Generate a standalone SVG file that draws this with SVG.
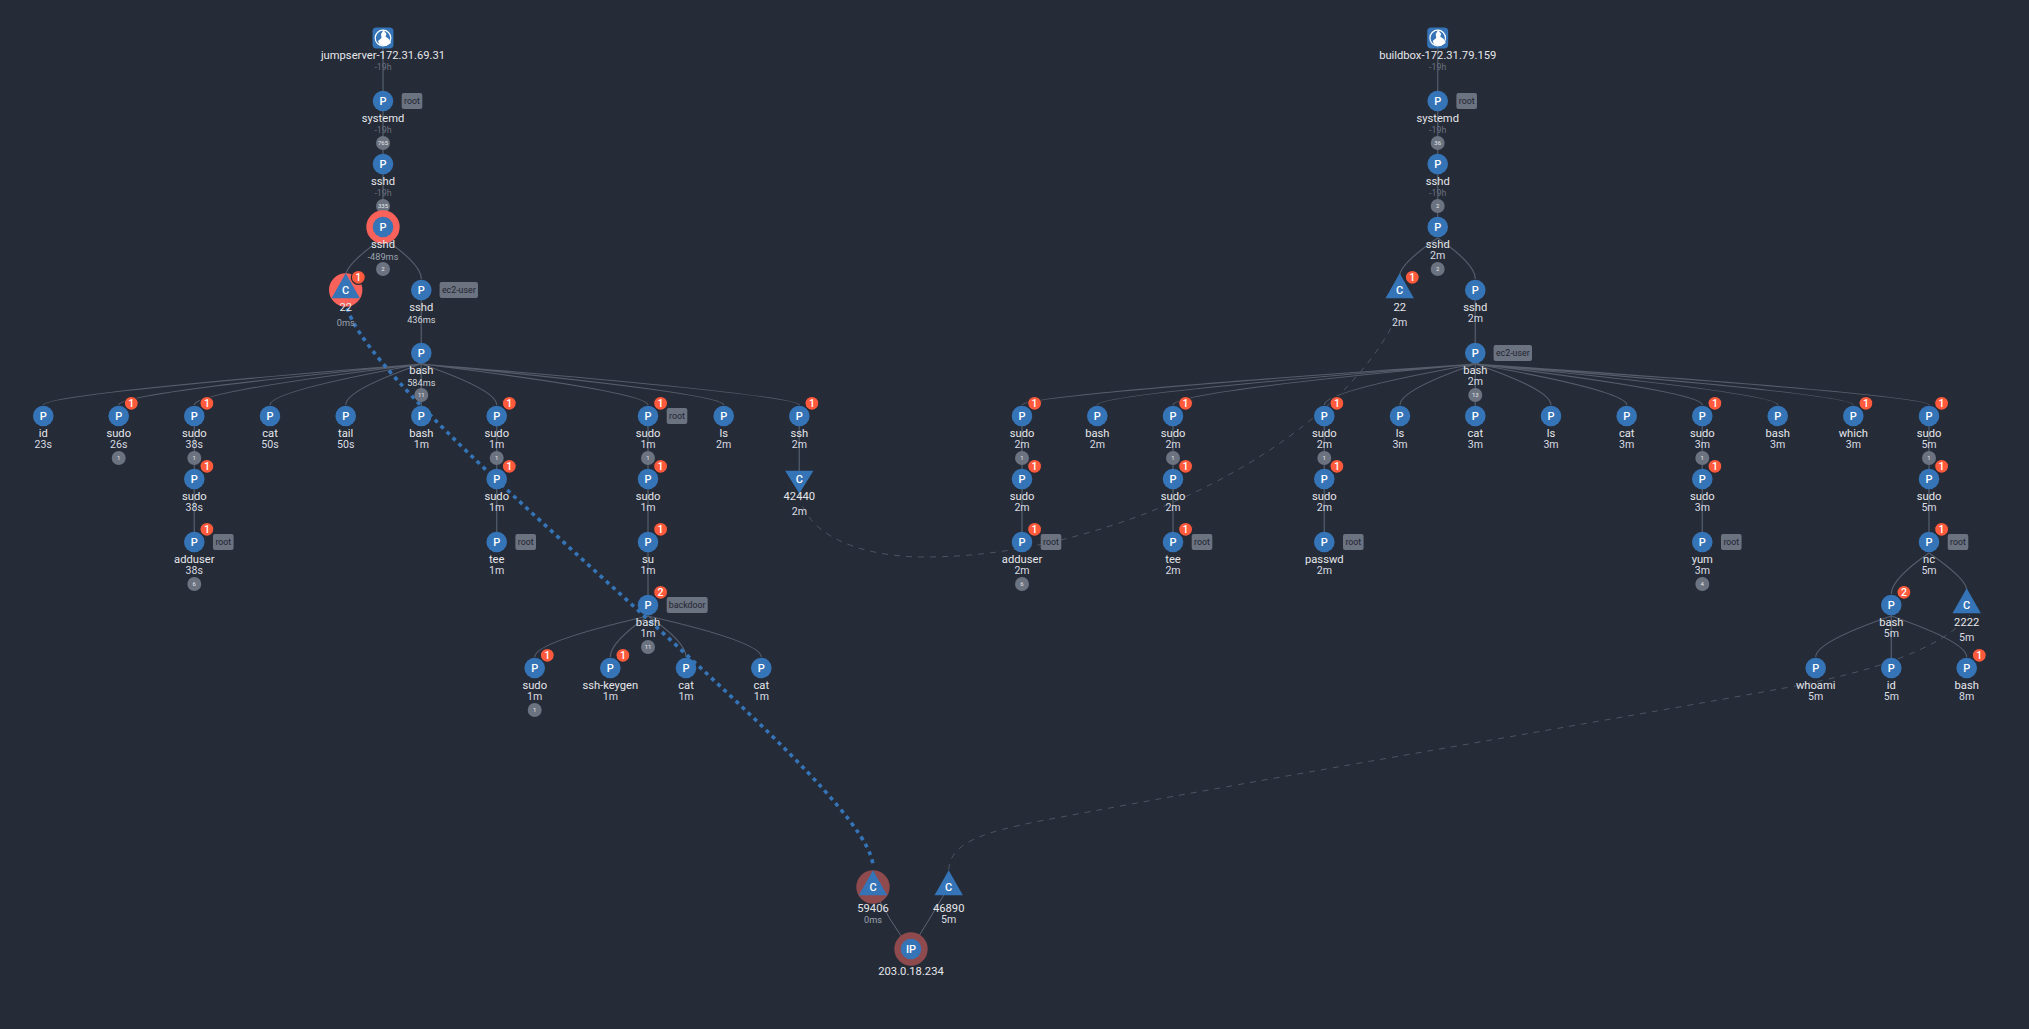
<svg xmlns="http://www.w3.org/2000/svg" width="2029" height="1029" viewBox="0 0 2029 1029">
<style>
text{font-family:Roboto,"Liberation Sans",sans-serif;text-anchor:middle}
.n{font-size:11.2px;fill:#e5e7eb}
.t{font-size:10.6px;fill:#d9dce2}
.m{font-size:9.2px;fill:#d1d5db}
.g{font-size:9.2px;fill:#9ca3af}
.h{font-size:8.8px;fill:#6b7280}
.l{font-size:11px;font-weight:500;fill:#fff}
.b{fill:#3574b7}
.bd{fill:#ff5a3c;stroke:#252b37;stroke-width:1.2}
.bt{font-size:10.5px;font-weight:500;fill:#fff}
.c{fill:#6b7280}
.ct{font-size:6px;fill:#e5e7eb}
.tg{fill:#6b7280}
.tt{font-size:8.8px;fill:#1f2430}
.hr{fill:#f8625a}
.hd{fill:#8f4a4e}
#edges path{fill:none;stroke:#565d6b;stroke-width:1.2}
#edges .v{stroke:#4b5563;stroke-width:1.5}
#edges .ip{stroke:#5f6673;stroke-width:1}
#edges .dash{stroke:#4b5563;stroke-width:1;stroke-dasharray:6 6}
#edges .dot{stroke:#3574b7;stroke-width:3.6;stroke-dasharray:4 4.4}
</style>
<defs>
<path id="up" d="M0-16.7L14.2 8.3H-14.2Z" class="b"/>
<path id="dn" d="M-14.2-8.3H14.2L0 14.4Z" class="b"/>
<g id="host"><rect x="-10.5" y="-10.5" width="21" height="21" rx="4" class="b"/><circle r="7.8" fill="none" stroke="#fff" stroke-width="1.2"/><path d="M0.5-8L3.5-4 2.5-1.5 6 1 8 5 3.5 7.8-3.5 6.5-5 3-1.5 0-2-4Z" fill="#fff"/></g>
</defs>
<rect width="2029" height="1029" fill="#252b37"/>
<g id="edges">
<path class="v" d="M383 38V227M421.3 290V353M421.3 353V416M194.3 416V542M496.7 416V542M648 416V605M799.3 416V479M1437.7 38V227M1475.3 290V353M1475.3 353V416M1022 416V542M1173 416V542M1324.3 416V542M1702.3 416V542M1929 416V542M1891.3 605V668"/>
<path d="M383 238Q345.7 264 345.7 276M383 238Q421.3 264 421.3 279"/>
<path d="M421.3 364Q43.3 394 43.3 405M421.3 364Q118.7 393 118.7 405M421.3 364Q194.3 392 194.3 405M421.3 364Q270 391 270 405M421.3 364Q345.7 390 345.7 405M421.3 364Q496.7 390 496.7 405M421.3 364Q648 392 648 405M421.3 364Q723.7 393 723.7 405M421.3 364Q799.3 395 799.3 405"/>
<path d="M648 616Q534.7 642 534.7 657M648 616Q610.3 642 610.3 657M648 616Q686 642 686 657M648 616Q761.3 642 761.3 657"/>
<path d="M1437.7 238Q1399.7 264 1399.7 276M1437.7 238Q1475.3 264 1475.3 279"/>
<path d="M1475.3 364Q1022 395 1022 405M1475.3 364Q1097.3 394 1097.3 405M1475.3 364Q1173 392 1173 405M1475.3 364Q1324.3 391 1324.3 405M1475.3 364Q1400 390 1400 405M1475.3 364Q1551 390 1551 405M1475.3 364Q1626.7 391 1626.7 405M1475.3 364Q1702.3 392 1702.3 405M1475.3 364Q1777.7 393 1777.7 405M1475.3 364Q1853.3 394 1853.3 405M1475.3 364Q1929 395 1929 405"/>
<path d="M1929 553Q1891.3 579 1891.3 594M1929 553Q1966.7 579 1966.7 590"/>
<path d="M1891.3 616Q1815.7 642 1815.7 657M1891.3 616Q1966.7 642 1966.7 657"/>
<path class="ip" d="M873 887Q888 920 911 949M948.7 887Q930 918 911 949"/>
<path class="dash" d="M799.3 495C806 535 860 557 925 557C1120 557 1345 440 1399.7 310"/>
<path class="dash" d="M948.7 870C950 842 985 832 1040 821C1300 772 1600 722 1790 687C1870 672 1940 650 1970 615"/>
<path class="dot" d="M345.7 300C350 390 870 780 873 866"/>
</g>
<g id="host1"><use href="#host" x="383" y="38"/><text class="n" x="383" y="59">jumpserver-172.31.69.31</text><text class="h" x="383" y="70">-19h</text></g>
<g id="l1" transform="translate(383,101)"><circle r="10.3" class="b"/><text class="l" y="4">P</text><text class="n" y="21">systemd</text><text class="h" y="32">-19h</text><circle cy="42" r="7" class="c"/><text class="ct" y="44">765</text><rect x="18.7" y="-8" width="20.6" height="16" rx="2" class="tg"/><text class="tt" x="29" y="3.2">root</text></g>
<g id="l2" transform="translate(383,164)"><circle r="10.3" class="b"/><text class="l" y="4">P</text><text class="n" y="21">sshd</text><text class="h" y="32">-19h</text><circle cy="42" r="7" class="c"/><text class="ct" y="44">335</text></g>
<g id="l3" transform="translate(383,227)"><circle r="16.7" class="hr"/><circle r="10.3" class="b"/><text class="l" y="4">P</text><text class="n" y="21">sshd</text><text class="g" y="32.5">-489ms</text><circle cy="42" r="7" class="c"/><text class="ct" y="44">2</text></g>
<g id="l4" transform="translate(345.7,290)"><circle r="16.7" class="hr"/><use href="#up"/><text class="l" y="4">C</text><text class="n" y="21">22</text><text class="g" y="36">0ms</text><circle cx="12.6" cy="-12.7" r="7" class="bd"/><text class="bt" x="12.6" y="-9">1</text></g>
<g id="l5" transform="translate(421.3,290)"><circle r="10.3" class="b"/><text class="l" y="4">P</text><text class="n" y="21">sshd</text><text class="m" y="32.5">436ms</text><rect x="18.3" y="-8" width="38.4" height="16" rx="2" class="tg"/><text class="tt" x="37.5" y="3.2">ec2-user</text></g>
<g id="l6" transform="translate(421.3,353)"><circle r="10.3" class="b"/><text class="l" y="4">P</text><text class="n" y="21">bash</text><text class="m" y="32.5">584ms</text><circle cy="42" r="7" class="c"/><text class="ct" y="44">11</text></g>
<g id="l7" transform="translate(43.3,416)"><circle r="10.3" class="b"/><text class="l" y="4">P</text><text class="n" y="21">id</text><text class="t" y="32.2">23s</text></g>
<g id="l8" transform="translate(118.7,416)"><circle r="10.3" class="b"/><text class="l" y="4">P</text><text class="n" y="21">sudo</text><text class="t" y="32.2">26s</text><circle cy="42" r="7" class="c"/><text class="ct" y="44">1</text><circle cx="12.6" cy="-12.7" r="7" class="bd"/><text class="bt" x="12.6" y="-9">1</text></g>
<g id="l9" transform="translate(194.3,416)"><circle r="10.3" class="b"/><text class="l" y="4">P</text><text class="n" y="21">sudo</text><text class="t" y="32.2">38s</text><circle cy="42" r="7" class="c"/><text class="ct" y="44">1</text><circle cx="12.6" cy="-12.7" r="7" class="bd"/><text class="bt" x="12.6" y="-9">1</text></g>
<g id="l10" transform="translate(270,416)"><circle r="10.3" class="b"/><text class="l" y="4">P</text><text class="n" y="21">cat</text><text class="t" y="32.2">50s</text></g>
<g id="l11" transform="translate(345.7,416)"><circle r="10.3" class="b"/><text class="l" y="4">P</text><text class="n" y="21">tail</text><text class="t" y="32.2">50s</text></g>
<g id="l12" transform="translate(421.3,416)"><circle r="10.3" class="b"/><text class="l" y="4">P</text><text class="n" y="21">bash</text><text class="t" y="32.2">1m</text></g>
<g id="l13" transform="translate(496.7,416)"><circle r="10.3" class="b"/><text class="l" y="4">P</text><text class="n" y="21">sudo</text><text class="t" y="32.2">1m</text><circle cy="42" r="7" class="c"/><text class="ct" y="44">1</text><circle cx="12.6" cy="-12.7" r="7" class="bd"/><text class="bt" x="12.6" y="-9">1</text></g>
<g id="l14" transform="translate(648,416)"><circle r="10.3" class="b"/><text class="l" y="4">P</text><text class="n" y="21">sudo</text><text class="t" y="32.2">1m</text><circle cy="42" r="7" class="c"/><text class="ct" y="44">1</text><circle cx="12.6" cy="-12.7" r="7" class="bd"/><text class="bt" x="12.6" y="-9">1</text><rect x="18.7" y="-8" width="20.6" height="16" rx="2" class="tg"/><text class="tt" x="29" y="3.2">root</text></g>
<g id="l15" transform="translate(723.7,416)"><circle r="10.3" class="b"/><text class="l" y="4">P</text><text class="n" y="21">ls</text><text class="t" y="32.2">2m</text></g>
<g id="l16" transform="translate(799.3,416)"><circle r="10.3" class="b"/><text class="l" y="4">P</text><text class="n" y="21">ssh</text><text class="t" y="32.2">2m</text><circle cx="12.6" cy="-12.7" r="7" class="bd"/><text class="bt" x="12.6" y="-9">1</text></g>
<g id="l17" transform="translate(194.3,479)"><circle r="10.3" class="b"/><text class="l" y="4">P</text><text class="n" y="21">sudo</text><text class="t" y="32.2">38s</text><circle cx="12.6" cy="-12.7" r="7" class="bd"/><text class="bt" x="12.6" y="-9">1</text></g>
<g id="l18" transform="translate(496.7,479)"><circle r="10.3" class="b"/><text class="l" y="4">P</text><text class="n" y="21">sudo</text><text class="t" y="32.2">1m</text><circle cx="12.6" cy="-12.7" r="7" class="bd"/><text class="bt" x="12.6" y="-9">1</text></g>
<g id="l19" transform="translate(648,479)"><circle r="10.3" class="b"/><text class="l" y="4">P</text><text class="n" y="21">sudo</text><text class="t" y="32.2">1m</text><circle cx="12.6" cy="-12.7" r="7" class="bd"/><text class="bt" x="12.6" y="-9">1</text></g>
<g id="l20" transform="translate(799.3,479)"><use href="#dn"/><text class="l" y="4">C</text><text class="n" y="21">42440</text><text class="t" y="36">2m</text></g>
<g id="l21" transform="translate(194.3,542)"><circle r="10.3" class="b"/><text class="l" y="4">P</text><text class="n" y="21">adduser</text><text class="t" y="32.2">38s</text><circle cy="42" r="7" class="c"/><text class="ct" y="44">6</text><circle cx="12.6" cy="-12.7" r="7" class="bd"/><text class="bt" x="12.6" y="-9">1</text><rect x="18.7" y="-8" width="20.6" height="16" rx="2" class="tg"/><text class="tt" x="29" y="3.2">root</text></g>
<g id="l22" transform="translate(496.7,542)"><circle r="10.3" class="b"/><text class="l" y="4">P</text><text class="n" y="21">tee</text><text class="t" y="32.2">1m</text><rect x="18.7" y="-8" width="20.6" height="16" rx="2" class="tg"/><text class="tt" x="29" y="3.2">root</text></g>
<g id="l23" transform="translate(648,542)"><circle r="10.3" class="b"/><text class="l" y="4">P</text><text class="n" y="21">su</text><text class="t" y="32.2">1m</text><circle cx="12.6" cy="-12.7" r="7" class="bd"/><text class="bt" x="12.6" y="-9">1</text></g>
<g id="l24" transform="translate(648,605)"><circle r="10.3" class="b"/><text class="l" y="4">P</text><text class="n" y="21">bash</text><text class="t" y="32.2">1m</text><circle cy="42" r="7" class="c"/><text class="ct" y="44">11</text><circle cx="12.6" cy="-12.7" r="7" class="bd"/><text class="bt" x="12.6" y="-9">2</text><rect x="18.7" y="-8" width="41" height="16" rx="2" class="tg"/><text class="tt" x="39.2" y="3.2">backdoor</text></g>
<g id="l25" transform="translate(534.7,668)"><circle r="10.3" class="b"/><text class="l" y="4">P</text><text class="n" y="21">sudo</text><text class="t" y="32.2">1m</text><circle cy="42" r="7" class="c"/><text class="ct" y="44">1</text><circle cx="12.6" cy="-12.7" r="7" class="bd"/><text class="bt" x="12.6" y="-9">1</text></g>
<g id="l26" transform="translate(610.3,668)"><circle r="10.3" class="b"/><text class="l" y="4">P</text><text class="n" y="21">ssh-keygen</text><text class="t" y="32.2">1m</text><circle cx="12.6" cy="-12.7" r="7" class="bd"/><text class="bt" x="12.6" y="-9">1</text></g>
<g id="l27" transform="translate(686,668)"><circle r="10.3" class="b"/><text class="l" y="4">P</text><text class="n" y="21">cat</text><text class="t" y="32.2">1m</text></g>
<g id="l28" transform="translate(761.3,668)"><circle r="10.3" class="b"/><text class="l" y="4">P</text><text class="n" y="21">cat</text><text class="t" y="32.2">1m</text></g>
<g id="host2"><use href="#host" x="1437.7" y="38"/><text class="n" x="1437.7" y="59">buildbox-172.31.79.159</text><text class="h" x="1437.7" y="70">-19h</text></g>
<g id="r1" transform="translate(1437.7,101)"><circle r="10.3" class="b"/><text class="l" y="4">P</text><text class="n" y="21">systemd</text><text class="h" y="32">-19h</text><circle cy="42" r="7" class="c"/><text class="ct" y="44">36</text><rect x="18.7" y="-8" width="20.6" height="16" rx="2" class="tg"/><text class="tt" x="29" y="3.2">root</text></g>
<g id="r2" transform="translate(1437.7,164)"><circle r="10.3" class="b"/><text class="l" y="4">P</text><text class="n" y="21">sshd</text><text class="h" y="32">-19h</text><circle cy="42" r="7" class="c"/><text class="ct" y="44">2</text></g>
<g id="r3" transform="translate(1437.7,227)"><circle r="10.3" class="b"/><text class="l" y="4">P</text><text class="n" y="21">sshd</text><text class="t" y="32.2">2m</text><circle cy="42" r="7" class="c"/><text class="ct" y="44">2</text></g>
<g id="r4" transform="translate(1399.7,290)"><use href="#up"/><text class="l" y="4">C</text><text class="n" y="21">22</text><text class="t" y="36">2m</text><circle cx="12.6" cy="-12.7" r="7" class="bd"/><text class="bt" x="12.6" y="-9">1</text></g>
<g id="r5" transform="translate(1475.3,290)"><circle r="10.3" class="b"/><text class="l" y="4">P</text><text class="n" y="21">sshd</text><text class="t" y="32.2">2m</text></g>
<g id="r6" transform="translate(1475.3,353)"><circle r="10.3" class="b"/><text class="l" y="4">P</text><text class="n" y="21">bash</text><text class="t" y="32.2">2m</text><circle cy="42" r="7" class="c"/><text class="ct" y="44">13</text><rect x="18.3" y="-8" width="38.4" height="16" rx="2" class="tg"/><text class="tt" x="37.5" y="3.2">ec2-user</text></g>
<g id="r7" transform="translate(1022,416)"><circle r="10.3" class="b"/><text class="l" y="4">P</text><text class="n" y="21">sudo</text><text class="t" y="32.2">2m</text><circle cy="42" r="7" class="c"/><text class="ct" y="44">1</text><circle cx="12.6" cy="-12.7" r="7" class="bd"/><text class="bt" x="12.6" y="-9">1</text></g>
<g id="r8" transform="translate(1097.3,416)"><circle r="10.3" class="b"/><text class="l" y="4">P</text><text class="n" y="21">bash</text><text class="t" y="32.2">2m</text></g>
<g id="r9" transform="translate(1173,416)"><circle r="10.3" class="b"/><text class="l" y="4">P</text><text class="n" y="21">sudo</text><text class="t" y="32.2">2m</text><circle cy="42" r="7" class="c"/><text class="ct" y="44">1</text><circle cx="12.6" cy="-12.7" r="7" class="bd"/><text class="bt" x="12.6" y="-9">1</text></g>
<g id="r10" transform="translate(1324.3,416)"><circle r="10.3" class="b"/><text class="l" y="4">P</text><text class="n" y="21">sudo</text><text class="t" y="32.2">2m</text><circle cy="42" r="7" class="c"/><text class="ct" y="44">1</text><circle cx="12.6" cy="-12.7" r="7" class="bd"/><text class="bt" x="12.6" y="-9">1</text></g>
<g id="r11" transform="translate(1400,416)"><circle r="10.3" class="b"/><text class="l" y="4">P</text><text class="n" y="21">ls</text><text class="t" y="32.2">3m</text></g>
<g id="r12" transform="translate(1475.3,416)"><circle r="10.3" class="b"/><text class="l" y="4">P</text><text class="n" y="21">cat</text><text class="t" y="32.2">3m</text></g>
<g id="r13" transform="translate(1551,416)"><circle r="10.3" class="b"/><text class="l" y="4">P</text><text class="n" y="21">ls</text><text class="t" y="32.2">3m</text></g>
<g id="r14" transform="translate(1626.7,416)"><circle r="10.3" class="b"/><text class="l" y="4">P</text><text class="n" y="21">cat</text><text class="t" y="32.2">3m</text></g>
<g id="r15" transform="translate(1702.3,416)"><circle r="10.3" class="b"/><text class="l" y="4">P</text><text class="n" y="21">sudo</text><text class="t" y="32.2">3m</text><circle cy="42" r="7" class="c"/><text class="ct" y="44">1</text><circle cx="12.6" cy="-12.7" r="7" class="bd"/><text class="bt" x="12.6" y="-9">1</text></g>
<g id="r16" transform="translate(1777.7,416)"><circle r="10.3" class="b"/><text class="l" y="4">P</text><text class="n" y="21">bash</text><text class="t" y="32.2">3m</text></g>
<g id="r17" transform="translate(1853.3,416)"><circle r="10.3" class="b"/><text class="l" y="4">P</text><text class="n" y="21">which</text><text class="t" y="32.2">3m</text><circle cx="12.6" cy="-12.7" r="7" class="bd"/><text class="bt" x="12.6" y="-9">1</text></g>
<g id="r18" transform="translate(1929,416)"><circle r="10.3" class="b"/><text class="l" y="4">P</text><text class="n" y="21">sudo</text><text class="t" y="32.2">5m</text><circle cy="42" r="7" class="c"/><text class="ct" y="44">1</text><circle cx="12.6" cy="-12.7" r="7" class="bd"/><text class="bt" x="12.6" y="-9">1</text></g>
<g id="r19" transform="translate(1022,479)"><circle r="10.3" class="b"/><text class="l" y="4">P</text><text class="n" y="21">sudo</text><text class="t" y="32.2">2m</text><circle cx="12.6" cy="-12.7" r="7" class="bd"/><text class="bt" x="12.6" y="-9">1</text></g>
<g id="r20" transform="translate(1173,479)"><circle r="10.3" class="b"/><text class="l" y="4">P</text><text class="n" y="21">sudo</text><text class="t" y="32.2">2m</text><circle cx="12.6" cy="-12.7" r="7" class="bd"/><text class="bt" x="12.6" y="-9">1</text></g>
<g id="r21" transform="translate(1324.3,479)"><circle r="10.3" class="b"/><text class="l" y="4">P</text><text class="n" y="21">sudo</text><text class="t" y="32.2">2m</text><circle cx="12.6" cy="-12.7" r="7" class="bd"/><text class="bt" x="12.6" y="-9">1</text></g>
<g id="r22" transform="translate(1702.3,479)"><circle r="10.3" class="b"/><text class="l" y="4">P</text><text class="n" y="21">sudo</text><text class="t" y="32.2">3m</text><circle cx="12.6" cy="-12.7" r="7" class="bd"/><text class="bt" x="12.6" y="-9">1</text></g>
<g id="r23" transform="translate(1929,479)"><circle r="10.3" class="b"/><text class="l" y="4">P</text><text class="n" y="21">sudo</text><text class="t" y="32.2">5m</text><circle cx="12.6" cy="-12.7" r="7" class="bd"/><text class="bt" x="12.6" y="-9">1</text></g>
<g id="r24" transform="translate(1022,542)"><circle r="10.3" class="b"/><text class="l" y="4">P</text><text class="n" y="21">adduser</text><text class="t" y="32.2">2m</text><circle cy="42" r="7" class="c"/><text class="ct" y="44">6</text><circle cx="12.6" cy="-12.7" r="7" class="bd"/><text class="bt" x="12.6" y="-9">1</text><rect x="18.7" y="-8" width="20.6" height="16" rx="2" class="tg"/><text class="tt" x="29" y="3.2">root</text></g>
<g id="r25" transform="translate(1173,542)"><circle r="10.3" class="b"/><text class="l" y="4">P</text><text class="n" y="21">tee</text><text class="t" y="32.2">2m</text><circle cx="12.6" cy="-12.7" r="7" class="bd"/><text class="bt" x="12.6" y="-9">1</text><rect x="18.7" y="-8" width="20.6" height="16" rx="2" class="tg"/><text class="tt" x="29" y="3.2">root</text></g>
<g id="r26" transform="translate(1324.3,542)"><circle r="10.3" class="b"/><text class="l" y="4">P</text><text class="n" y="21">passwd</text><text class="t" y="32.2">2m</text><rect x="18.7" y="-8" width="20.6" height="16" rx="2" class="tg"/><text class="tt" x="29" y="3.2">root</text></g>
<g id="r27" transform="translate(1702.3,542)"><circle r="10.3" class="b"/><text class="l" y="4">P</text><text class="n" y="21">yum</text><text class="t" y="32.2">3m</text><circle cy="42" r="7" class="c"/><text class="ct" y="44">4</text><rect x="18.7" y="-8" width="20.6" height="16" rx="2" class="tg"/><text class="tt" x="29" y="3.2">root</text></g>
<g id="r28" transform="translate(1929,542)"><circle r="10.3" class="b"/><text class="l" y="4">P</text><text class="n" y="21">nc</text><text class="t" y="32.2">5m</text><circle cx="12.6" cy="-12.7" r="7" class="bd"/><text class="bt" x="12.6" y="-9">1</text><rect x="18.7" y="-8" width="20.6" height="16" rx="2" class="tg"/><text class="tt" x="29" y="3.2">root</text></g>
<g id="r29" transform="translate(1891.3,605)"><circle r="10.3" class="b"/><text class="l" y="4">P</text><text class="n" y="21">bash</text><text class="t" y="32.2">5m</text><circle cx="12.6" cy="-12.7" r="7" class="bd"/><text class="bt" x="12.6" y="-9">2</text></g>
<g id="r30" transform="translate(1966.7,605)"><use href="#up"/><text class="l" y="4">C</text><text class="n" y="21">2222</text><text class="t" y="36">5m</text></g>
<g id="r31" transform="translate(1815.7,668)"><circle r="10.3" class="b"/><text class="l" y="4">P</text><text class="n" y="21">whoami</text><text class="t" y="32.2">5m</text></g>
<g id="r32" transform="translate(1891.3,668)"><circle r="10.3" class="b"/><text class="l" y="4">P</text><text class="n" y="21">id</text><text class="t" y="32.2">5m</text></g>
<g id="r33" transform="translate(1966.7,668)"><circle r="10.3" class="b"/><text class="l" y="4">P</text><text class="n" y="21">bash</text><text class="t" y="32.2">8m</text><circle cx="12.6" cy="-12.7" r="7" class="bd"/><text class="bt" x="12.6" y="-9">1</text></g>
<g id="c1" transform="translate(873,887)"><circle r="16.7" class="hd"/><use href="#up"/><text class="l" y="4">C</text><text class="n" y="25">59406</text><text class="g" y="36">0ms</text></g>
<g id="c2" transform="translate(948.7,887)"><use href="#up"/><text class="l" y="4">C</text><text class="n" y="25">46890</text><text class="t" y="36">5m</text></g>
<g id="ip" transform="translate(911,949)"><circle r="16.7" class="hd"/><circle r="10.3" class="b"/><text class="l" y="4">IP</text><text class="n" y="26">203.0.18.234</text></g>
</svg>
